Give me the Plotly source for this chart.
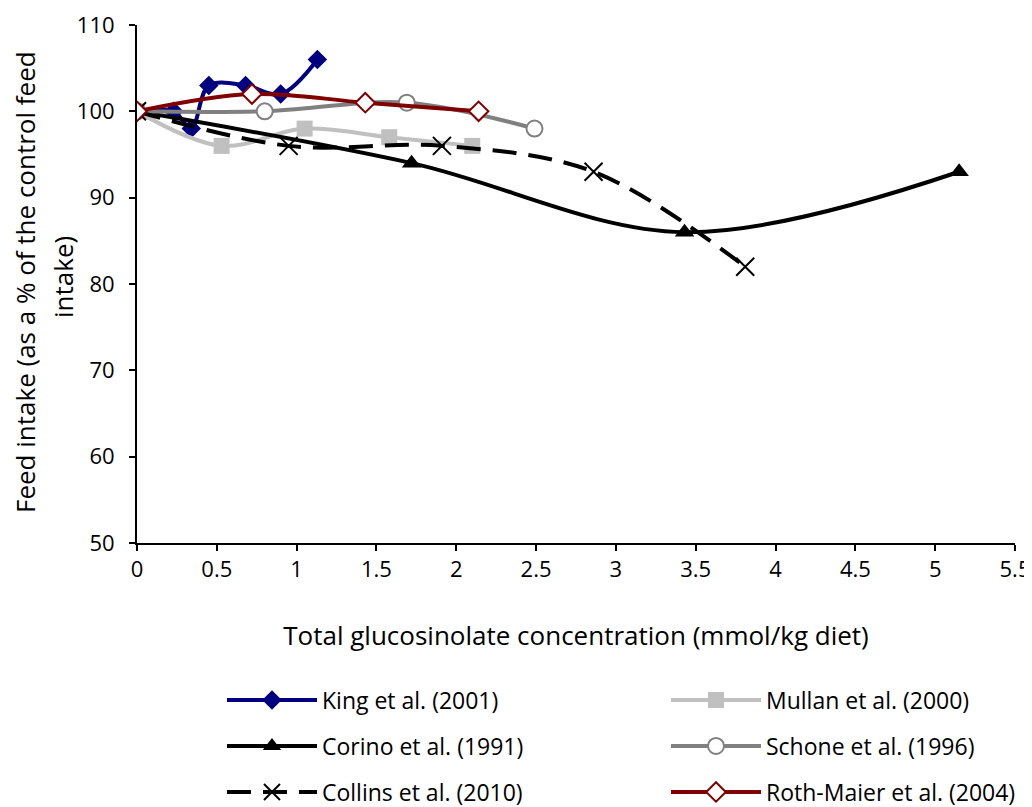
import plotly.graph_objects as go

king_x = [0, 0.23, 0.34, 0.45, 0.68, 0.9, 1.13]
king_y = [100, 100, 98, 103, 103, 102, 106]
mullan_x = [0, 0.53, 1.05, 1.58, 2.1]
mullan_y = [100, 96, 98, 97, 96]
corino_x = [0, 1.72, 3.43, 5.15]
corino_y = [100, 94, 86, 93]
schone_x = [0, 0.8, 1.69, 2.49]
schone_y = [100, 100, 101, 98]
collins_x = [0, 0.95, 1.91, 2.86, 3.81]
collins_y = [100, 96, 96, 93, 82]
roth_x = [0, 0.72, 1.43, 2.14]
roth_y = [100, 102, 101, 100]

x_ticks = [0, 0.5, 1, 1.5, 2, 2.5, 3, 3.5, 4, 4.5, 5, 5.5]
y_ticks = [50, 60, 70, 80, 90, 100, 110]

FONT = "'Open Sans', Lato, sans-serif"

series = [
    dict(name="King et al. (2001)", x=king_x, y=king_y, color="#000080", dash="solid",
         marker=dict(symbol="diamond", size=15, color="#000080"), legend="legend"),
    dict(name="Mullan et al. (2000)", x=mullan_x, y=mullan_y, color="#C0C0C0", dash="solid",
         marker=dict(symbol="square", size=16, color="#C0C0C0"), legend="legend2"),
    dict(name="Corino et al. (1991)", x=corino_x, y=corino_y, color="#000000", dash="solid",
         marker=dict(symbol="triangle-up", size=17, color="#000000"), legend="legend3"),
    dict(name="Schone et al. (1996)", x=schone_x, y=schone_y, color="#808080", dash="solid",
         marker=dict(symbol="circle", size=16, color="white", line=dict(color="#808080", width=2)), legend="legend4"),
    dict(name="Collins et al. (2010)", x=collins_x, y=collins_y, color="#000000", dash="24px,12px",
         marker=dict(symbol="x-thin-open", size=18, color="#000000", line=dict(color="#000000", width=2)), legend="legend5"),
    dict(name="Roth-Maier et al. (2004)", x=roth_x, y=roth_y, color="#800000", dash="solid",
         marker=dict(symbol="diamond", size=15, color="white", line=dict(color="#800000", width=2)), legend="legend6"),
]

fig = go.Figure()
for s in series:
    fig.add_trace(go.Scatter(
        x=s["x"], y=s["y"], name=s["name"], mode="lines+markers", showlegend=True,
        line=dict(color=s["color"], width=4, dash=s["dash"], shape="spline", smoothing=1),
        marker=s["marker"], legend=s["legend"],
    ))

def leg(x, y):
    return dict(orientation="h", x=x, y=y, xanchor="left", yanchor="middle",
                yref="container",
                font=dict(family=FONT, size=23, color="black"),
                itemwidth=90, bgcolor="rgba(0,0,0,0)")

col1, col2 = 0.0968, 0.6025
row1, row2, row3 = 0.1339, 0.0763, 0.0188

fig.update_layout(
    width=1024, height=799, showlegend=True,
    paper_bgcolor="white", plot_bgcolor="white",
    margin=dict(l=129, r=17, t=17, b=264),
    font=dict(family=FONT, size=22, color="black"),
    xaxis=dict(range=[0, 5.5], tickvals=x_ticks, ticktext=[str(v) for v in x_ticks],
               showline=True, linecolor="black", linewidth=2, ticks="outside",
               ticklen=6, tickcolor="black", tickwidth=2, showgrid=False, zeroline=False,
               automargin=False,
               title=dict(text="Total glucosinolate concentration (mmol/kg diet)",
                          font=dict(size=26), standoff=44),
               tickfont=dict(size=22)),
    yaxis=dict(range=[50, 110], tickvals=y_ticks, showline=True, linecolor="black",
               linewidth=2, ticks="outside", ticklen=6, tickcolor="black", tickwidth=2,
               showgrid=False, zeroline=False, automargin=False, ticklabelstandoff=10,
               tickfont=dict(size=22)),
    legend=leg(col1, row1),
    legend2=leg(col2, row1),
    legend3=leg(col1, row2),
    legend4=leg(col2, row2),
    legend5=leg(col1, row3),
    legend6=leg(col2, row3),
    annotations=[
        dict(text="Feed intake (as a % of the control feed", textangle=-90,
             xref="paper", yref="paper", x=-0.1275, y=0.5039,
             xanchor="center", yanchor="middle", showarrow=False,
             font=dict(family=FONT, size=26, color="black")),
        dict(text="intake)", textangle=-90,
             xref="paper", yref="paper", x=-0.0843, y=0.5135,
             xanchor="center", yanchor="middle", showarrow=False,
             font=dict(family=FONT, size=26, color="black")),
    ],
)

fig.write_html("out.html")
